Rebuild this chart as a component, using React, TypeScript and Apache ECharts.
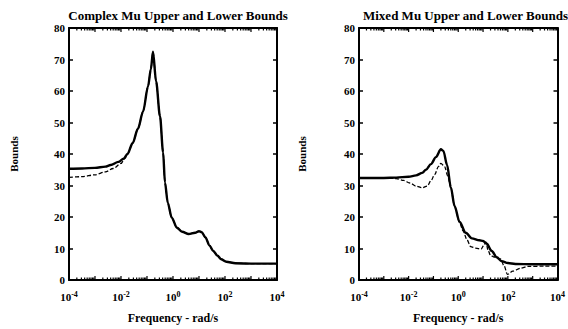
import React, { useEffect, useRef } from "react";
import * as echarts from "echarts";

// log10 of frequency (rad/s) and bound values
const leftUpperLogF = [-4, -3.5, -3, -2.6, -2.4, -2.1, -1.9, -1.75, -1.55, -1.35, -1.15, -0.96, -0.85, -0.77, -0.65, -0.5, -0.38, -0.31, -0.2, -0.05, 0.15, 0.35, 0.6, 0.85, 1.0, 1.1, 1.25, 1.4, 1.55, 1.7, 1.85, 2.05, 2.4, 3, 4];
const leftUpperVal = [35.3, 35.4, 35.6, 36, 36.5, 37.5, 38.5, 40, 43.5, 48, 53.5, 61.5, 67, 72.5, 63, 52, 40.5, 31, 24.5, 19.8, 16.6, 15.3, 14.6, 15, 15.5, 15.2, 13.5, 11, 9.2, 7.8, 6.6, 5.8, 5.3, 5.2, 5.2];
const leftLowerLogF = [-4, -3.5, -3, -2.6, -2.3, -2.0, -1.85, -1.75, -1.55, -1.35, -1.15, -0.96, -0.85, -0.77, -0.65, -0.5, -0.38, -0.31, -0.2, -0.05, 0.15, 0.35, 0.6, 0.85, 1.0, 1.1, 1.25, 1.4, 1.55, 1.7, 1.85, 2.05, 2.4, 3, 4];
const leftLowerVal = [32.6, 32.8, 33.4, 34.3, 35.4, 37, 38.6, 40, 43.5, 48, 53.5, 61.5, 67, 72.5, 63, 52, 40.5, 31, 24.5, 19.8, 16.6, 15.3, 14.6, 15, 15.5, 15.2, 13.5, 11, 9.2, 7.8, 6.6, 5.8, 5.3, 5.2, 5.2];

const rightUpperLogF = [-4, -3, -2.5, -2, -1.7, -1.45, -1.3, -1.1, -0.9, -0.7, -0.6, -0.45, -0.3, -0.15, 0.05, 0.3, 0.55, 0.85, 1.0, 1.15, 1.35, 1.55, 1.75, 2.0, 2.3, 3, 4];
const rightUpperVal = [32.4, 32.4, 32.5, 32.8, 33.2, 34, 35, 36.8, 39, 41.5, 41, 36.5, 29.5, 23.5, 18.5, 15, 13.2, 12.6, 12.4, 11.5, 9.2, 7.2, 6, 5.4, 5.1, 5.0, 5.0];
const rightLowerLogF = [-4, -3, -2.5, -2.2, -1.95, -1.7, -1.45, -1.25, -1.1, -0.95, -0.8, -0.7, -0.55, -0.42, -0.3, -0.15, 0.05, 0.2, 0.35, 0.5, 0.7, 0.92, 1.05, 1.12, 1.2, 1.3, 1.45, 1.7, 1.85, 1.98, 2.2, 2.5, 2.8, 3.5, 4];
const rightLowerVal = [32.4, 32.4, 32.2, 31.6, 30.8, 29.8, 29.3, 29.8, 31.5, 33.5, 36, 37, 36, 33, 29.2, 23.5, 18.3, 15.5, 12.8, 10.6, 10.1, 9.8, 11.3, 12, 9.5, 7.8, 7.3, 6.7, 4.5, 1.8, 2.8, 3.7, 4.3, 4.4, 4.4];

const xTickExponents = [-4, -2, 0, 2, 4];
const yTicks = [0, 10, 20, 30, 40, 50, 60, 70, 80];

const titles = ["Complex Mu Upper and Lower Bounds", "Mixed Mu Upper and Lower Bounds"];
const yName = "Bounds";
const xName = "Frequency - rad/s";

const FONT = "Liberation Serif";

function pairs(xs: number[], ys: number[]) {
  return xs.map((x, i) => [x, ys[i]]);
}

// log minor tick positions (decoration of the axis)
function minorTickPositions() {
  const out: number[][] = [];
  for (let d = -4; d < 4; d++) {
    for (let k = 1; k <= 9; k++) {
      const v = d + Math.log10(k);
      if (v > -4 && v < 4) out.push([v, k === 1 ? 1 : 0]);
    }
  }
  return out;
}

export default function App() {
  const ref = useRef<HTMLDivElement>(null);
  useEffect(() => {
    if (!ref.current) return;
    const chart = echarts.init(ref.current, null, { renderer: "svg" });
    const grids = [
      { left: 69, top: 28, width: 208, height: 262 },
      { left: 359, top: 28, width: 203, height: 261 },
    ];
    const xAxes: any[] = [];
    const yAxes: any[] = [];
    const series: any[] = [];
    const titleOpts: any[] = [];
    const lineStyleAxis = { color: "#000", width: 2 };
    grids.forEach((g, gi) => {
      titleOpts.push({
        text: titles[gi],
        left: g.left + g.width / 2,
        top: 4,
        textAlign: "center",
        textStyle: { fontFamily: FONT, fontWeight: "bold", fontSize: 13, color: "#000" },
      });
      xAxes.push({
        type: "value",
        gridIndex: gi,
        min: -4,
        max: 4,
        interval: 2,
        position: "bottom",
        name: xName,
        nameLocation: "middle",
        nameGap: 32,
        nameTextStyle: { fontFamily: FONT, fontWeight: "bold", fontSize: 12, color: "#000" },
        axisLine: { show: true, onZero: false, lineStyle: lineStyleAxis },
        axisTick: { show: false },
        splitLine: { show: false },
        axisLabel: {
          margin: 10,
          formatter: (v: number) => (xTickExponents.includes(v) ? `{b|10}{s|${v}}` : ""),
          rich: {
            b: { fontFamily: FONT, fontWeight: "bold", fontSize: 11, color: "#000" },
            s: { fontFamily: FONT, fontWeight: "bold", fontSize: 8, color: "#000", verticalAlign: "top", padding: [0, 0, 5, 0] },
          },
        },
      });
      xAxes.push({
        type: "value",
        gridIndex: gi,
        min: -4,
        max: 4,
        position: "top",
        axisLine: { show: true, onZero: false, lineStyle: lineStyleAxis },
        axisTick: { show: false },
        axisLabel: { show: false },
        splitLine: { show: false },
      });
      yAxes.push({
        type: "value",
        gridIndex: gi,
        min: 0,
        max: 80,
        interval: 10,
        position: "left",
        name: yName,
        nameLocation: "middle",
        nameGap: gi === 0 ? 50 : 52,
        nameTextStyle: { fontFamily: FONT, fontWeight: "bold", fontSize: 11, color: "#000" },
        axisLine: { show: true, onZero: false, lineStyle: lineStyleAxis },
        axisTick: { show: true, inside: true, length: 4, lineStyle: { color: "#000", width: 1.5 } },
        splitLine: { show: false },
        axisLabel: {
          margin: 4,
          fontFamily: FONT,
          fontWeight: "bold",
          fontSize: 11,
          color: "#000",
          formatter: (v: number) => (yTicks.includes(v) ? String(v) : ""),
        },
      });
      yAxes.push({
        type: "value",
        gridIndex: gi,
        min: 0,
        max: 80,
        interval: 10,
        position: "right",
        axisLine: { show: true, onZero: false, lineStyle: lineStyleAxis },
        axisTick: { show: true, inside: true, length: 4, lineStyle: { color: "#000", width: 1.5 } },
        axisLabel: { show: false },
        splitLine: { show: false },
      });
      const xi = gi * 2;
      const yi = gi * 2;
      series.push({
        type: "custom",
        xAxisIndex: xi,
        yAxisIndex: yi,
        data: minorTickPositions(),
        silent: true,
        clip: false,
        renderItem: (params: any, api: any) => {
          const x = api.value(0);
          const major = api.value(1) === 1;
          const pb = api.coord([x, 0]);
          const pt = api.coord([x, 80]);
          const len = major ? 4 : 2.5;
          return {
            type: "group",
            children: [
              { type: "line", shape: { x1: pb[0], y1: pb[1], x2: pb[0], y2: pb[1] - len }, style: { stroke: "#000", lineWidth: 1.2 } },
              { type: "line", shape: { x1: pt[0], y1: pt[1], x2: pt[0], y2: pt[1] + len }, style: { stroke: "#000", lineWidth: 1.2 } },
            ],
          };
        },
      });
      const lower = gi === 0 ? pairs(leftLowerLogF, leftLowerVal) : pairs(rightLowerLogF, rightLowerVal);
      const upper = gi === 0 ? pairs(leftUpperLogF, leftUpperVal) : pairs(rightUpperLogF, rightUpperVal);
      series.push({
        type: "line",
        name: "lower",
        xAxisIndex: xi,
        yAxisIndex: yi,
        data: lower,
        showSymbol: false,
        smooth: 0.3,
        smoothMonotone: "x",
        lineStyle: { color: "#000", width: 1.3, type: [4, 2] },
      });
      series.push({
        type: "line",
        name: "upper",
        xAxisIndex: xi,
        yAxisIndex: yi,
        data: upper,
        showSymbol: false,
        smooth: 0.3,
        smoothMonotone: "x",
        lineStyle: { color: "#000", width: 2.4 },
      });
    });
    chart.setOption({
      animation: false,
      backgroundColor: "#fff",
      title: titleOpts,
      grid: grids,
      xAxis: xAxes,
      yAxis: yAxes,
      series,
    });
    return () => chart.dispose();
  }, []);
  return <div ref={ref} style={{ width: 568, height: 329, position: "fixed", left: 0, top: 0 }} />;
}
